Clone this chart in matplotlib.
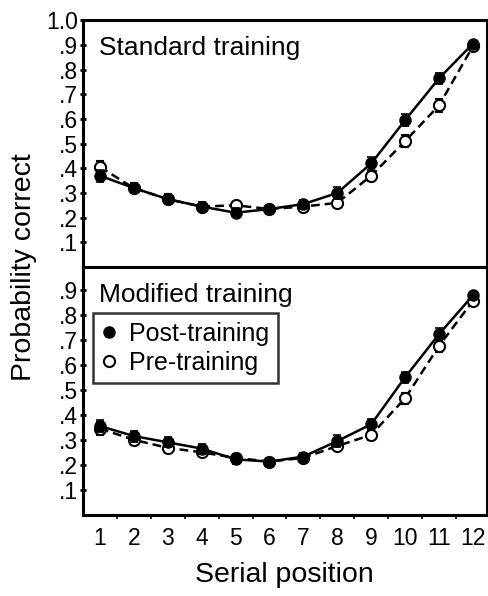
import numpy as np
import matplotlib
matplotlib.use("Agg")
import matplotlib.pyplot as plt
from matplotlib.lines import Line2D

plt.rcParams['font.family'] = ['Liberation Sans', 'DejaVu Sans']

positions = np.arange(1, 13)

# Standard training (top panel)
std_post = [0.37, 0.32, 0.275, 0.245, 0.22, 0.235, 0.255, 0.30, 0.42, 0.595, 0.765, 0.905]
std_post_err = [0.025, 0.02, 0.02, 0.018, 0.018, 0.015, 0.018, 0.025, 0.025, 0.025, 0.022, 0.012]
std_pre = [0.405, 0.32, 0.275, 0.245, 0.25, 0.235, 0.245, 0.26, 0.37, 0.51, 0.655, 0.895]
std_pre_err = [0.025, 0.02, 0.02, 0.015, 0.015, 0.015, 0.015, 0.015, 0.02, 0.025, 0.025, 0.012]

# Modified training (bottom panel)
mod_post = [0.355, 0.315, 0.29, 0.265, 0.222, 0.213, 0.233, 0.295, 0.362, 0.55, 0.722, 0.877]
mod_post_err = [0.025, 0.022, 0.02, 0.02, 0.018, 0.012, 0.015, 0.025, 0.02, 0.022, 0.025, 0.015]
mod_pre = [0.345, 0.30, 0.268, 0.25, 0.228, 0.213, 0.228, 0.275, 0.32, 0.466, 0.675, 0.855]
mod_pre_err = [0.025, 0.02, 0.02, 0.015, 0.015, 0.012, 0.015, 0.015, 0.02, 0.022, 0.025, 0.015]

panels = [
    ("Standard training", std_post, std_post_err, std_pre, std_pre_err, 1.0),
    ("Modified training", mod_post, mod_post_err, mod_pre, mod_pre_err, 0.99),
]

fig = plt.figure(figsize=(4.88, 5.96), dpi=100)
left, right = 0.170, 0.997
ax_top = fig.add_axes([left, 0.552, right - left, 0.966 - 0.552])
ax_bot = fig.add_axes([left, 0.136, right - left, 0.552 - 0.136])

for ax, (title, post, post_err, pre, pre_err, ymax) in zip([ax_top, ax_bot], panels):
    ax.errorbar(positions, pre, yerr=pre_err, color='black', ls='--', lw=1.8,
                dashes=(3.5, 2), marker='o', ms=8, mfc='white', mec='black', mew=1.5,
                capsize=3, elinewidth=1.2, capthick=1.2, zorder=2)
    ax.errorbar(positions, post, yerr=post_err, color='black', ls='-', lw=1.8,
                marker='o', ms=8, mfc='black', mec='black',
                capsize=3, elinewidth=1.2, capthick=1.2, zorder=3)
    ax.set_xlim(0.5, 12.4)
    ax.set_ylim(0, ymax)
    for s in ax.spines.values():
        s.set_linewidth(2.2)
    ax.text(0.04, 0.935, title, transform=ax.transAxes, fontsize=19,
            ha='left', va='top')
    yt = np.round(np.arange(0.1, ymax + 0.001, 0.1), 1)
    ax.set_yticks(yt)
    ax.set_yticklabels(['1.0' if v >= 1.0 else ('%.1f' % v)[1:] for v in yt])
    ax.tick_params(axis='y', direction='inout', length=5, width=2, labelsize=16.5, pad=1)
    ax.set_xticks(positions)
    ax.set_xticks(positions[:-1] + 0.5, minor=True)
    ax.tick_params(axis='x', which='major', length=0, labelsize=16.5, pad=9)
    ax.tick_params(axis='x', which='minor', direction='out', length=3, width=1.2)

ax_top.tick_params(axis='x', which='both', labelbottom=False, length=0)

handles = [
    Line2D([], [], ls='none', marker='o', ms=8, mfc='black', mec='black'),
    Line2D([], [], ls='none', marker='o', ms=8, mfc='white', mec='black', mew=1.5),
]
leg = ax_bot.legend(handles, ['Post-training', 'Pre-training'], loc='upper left',
                    bbox_to_anchor=(0.025, 0.815), fontsize=18, frameon=True,
                    fancybox=False, edgecolor='black', handlelength=0.6,
                    handletextpad=0.5, borderpad=0.35, labelspacing=0.2,
                    borderaxespad=0)
leg.get_frame().set_linewidth(1.8)

ax_bot.set_xlabel('Serial position', fontsize=20.5, labelpad=8)
fig.text(0.05, 0.551, 'Probability correct', rotation=90, fontsize=20.5,
         ha='center', va='center')

fig.savefig('out.png', dpi=100)
